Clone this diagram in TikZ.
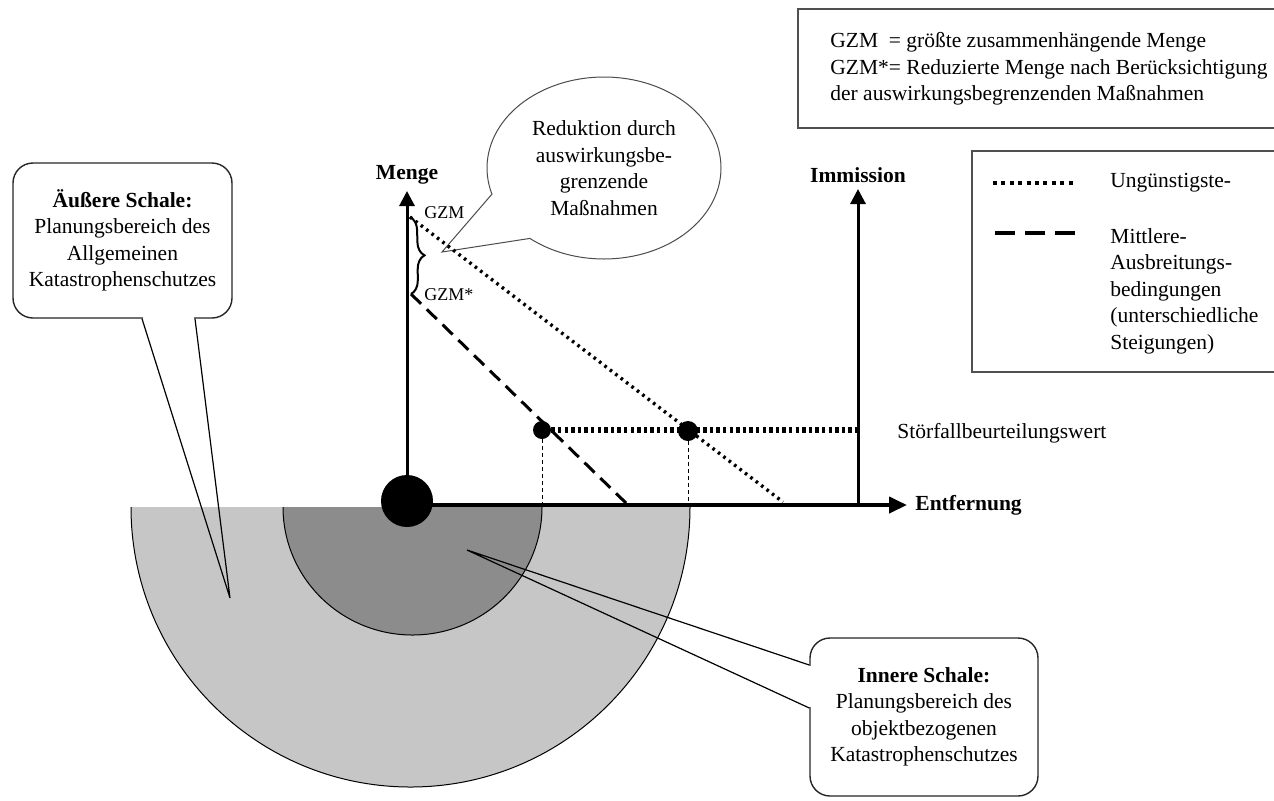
\documentclass[tikz,border=0pt]{standalone}
\usepackage{fontspec}
\setmainfont{Liberation Serif}
\usetikzlibrary{positioning,arrows.meta,shapes.callouts,decorations.pathreplacing,calc}

\definecolor{shellouter}{HTML}{C6C6C6}
\definecolor{shellinner}{HTML}{8C8C8C}
\definecolor{framegray}{HTML}{505050}

\begin{document}
\begin{tikzpicture}[
    x=0.5pt, y=-0.5pt,
    font=\fontsize{10.75}{13.25}\selectfont,
    shellbox/.style={rectangle, rounded corners=10pt, draw=black!85, line width=0.7pt,
                     fill=white, align=center, inner sep=0pt},
    bubble/.style={ellipse callout, draw=black!70, line width=0.5pt, fill=white,
                   align=center, inner sep=0pt, minimum width=117pt, minimum height=91pt,
                   callout pointer arc=34},
    axisline/.style={-{Triangle[length=7.5pt,width=7.5pt]}, line width=1.5pt},
    xaxisline/.style={-{Triangle[length=9pt,width=8pt]}, line width=2pt},
    worstline/.style={line width=1.7pt, dash pattern=on 1.3pt off 2.1pt},
    meanline/.style={line width=1.5pt, dash pattern=on 7pt off 4pt},
    limitline/.style={line width=2.9pt, dash pattern=on 1.7pt off 1.6pt},
    helpline/.style={line width=0.5pt, dash pattern=on 2pt off 1.5pt},
    dot/.style={circle, fill=black, inner sep=0pt},
    axislabel/.style={font=\fontsize{10.75}{13.25}\selectfont\bfseries, inner sep=0pt},
    smalllabel/.style={font=\fontsize{9}{11}\selectfont, inner sep=0pt, anchor=west},
    legendframe/.style={draw=framegray, line width=0.8pt}
  ]
    \useasboundingbox (0,0) rectangle (1274,800);

    % planning shells
    \fill[shellouter] (131,507) arc[start angle=180, end angle=0, x radius=279.5, y radius=280] -- cycle;
    \draw[line width=0.5pt] (131,507) arc[start angle=180, end angle=0, x radius=279.5, y radius=280];
    \fill[shellinner] (283,507) arc[start angle=180, end angle=0, x radius=129.5, y radius=128] -- cycle;
    \draw[line width=0.5pt] (283,507) arc[start angle=180, end angle=0, x radius=129.5, y radius=128];

    % callouts of the shells
    \node[shellbox, minimum width=109.5pt, minimum height=77.5pt] (outerbox) at (122.5,240.5)
      {\textbf{Äußere Schale:}\\Planungsbereich des\\Allgemeinen\\Katastrophenschutzes};
    \coordinate (outertip) at (230,598);
    \fill[white] ($(outerbox.south)+(20.5,-3)$) rectangle ($(outerbox.south)+(71.5,2)$);
    \draw[line width=0.6pt] ($(outerbox.south)+(19.5,0)$) -- (outertip) -- ($(outerbox.south)+(72.5,0)$);

    \node[shellbox, minimum width=114pt, minimum height=79pt] (innerbox) at (924,717)
      {\textbf{Innere Schale:}\\Planungsbereich des\\objektbezogenen\\Katastrophenschutzes};
    \coordinate (innertip) at (467,550);
    \fill[white] ($(innerbox.west)+(-2,-51)$) rectangle ($(innerbox.west)+(3,-10)$);
    \draw[line width=0.6pt] ($(innerbox.west)+(0,-52)$) -- (innertip) -- ($(innerbox.west)+(0,-9)$);

    % axes
    \coordinate (xtip) at (907,505);
    \coordinate (ytip) at (407,191);
    \coordinate (itip) at (858,189);
    \coordinate (ibase) at (858,505);
    \node[dot, minimum size=26pt] (source) at (407,501) {};
    \draw[xaxisline] (source.center |- xtip) -- (xtip);
    \draw[axisline] (source) -- (ytip);
    \draw[axisline] (ibase) -- (itip);
    \node[axislabel, above=3pt of ytip] (menge) {Menge};
    \node[axislabel, above=3pt of itip] (immission) {Immission};
    \node[axislabel, right=4pt of xtip] (entfernung) {Entfernung};

    % reduction bubble
    \coordinate (redtip) at (442,252);
    \node[bubble, callout absolute pointer={(redtip)}] (reduction) at (604,168)
      {Reduktion durch\\auswirkungsbe-\\grenzende\\Maßnahmen};

    % quantities and dispersion lines
    \coordinate (gzm) at (410,217);
    \coordinate (gzmstar) at (411,294);
    \coordinate (worstend) at (783,502);
    \coordinate (meanend) at (626,503);
    \coordinate (limitend) at (858,430);
    \draw[decorate, decoration={brace, amplitude=7pt}, line width=1pt] (gzm) -- (gzmstar);
    \node[smalllabel] (gzmlabel) at (424,213) {GZM};
    \node[smalllabel] (gzmstarlabel) at (424,295) {GZM*};
    \draw[meanline] (gzmstar) -- (meanend);
    \draw[worstline] (gzm) -- (worstend);

    \node[dot, minimum size=9pt] (dotmean) at (542,430) {};
    \node[dot, minimum size=10pt] (dotworst) at (688,431) {};
    \draw[limitline] (dotmean) -- (limitend);
    \draw[helpline] (dotmean) -- (dotmean |- xtip);
    \draw[helpline] (dotworst) -- (dotworst |- xtip);
    \node[anchor=west, inner sep=0pt] (limitlabel) at (897,433) {Störfallbeurteilungswert};

    % legends
    \draw[legendframe] (798,9) rectangle (1290,128);
    \node[anchor=west, align=left, inner sep=0pt] (deflist) at (830,69)
      {GZM\ \ = größte zusammenhängende Menge\\GZM*= Reduzierte Menge nach Berücksichtigung\\der auswirkungsbegrenzenden Maßnahmen};

    \draw[legendframe] (972,151) rectangle (1290,372);
    \coordinate (keyworsta) at (993,183);
    \coordinate (keyworstb) at (1073,183);
    \coordinate (keymeana) at (995,233);
    \coordinate (keymeanb) at (1075,233);
    \draw[line width=2.2pt, dash pattern=on 2pt off 2.2pt] (keyworsta) -- (keyworstb);
    \draw[line width=2.2pt, dash pattern=on 10pt off 5pt] (keymeana) -- (keymeanb);
    \node[anchor=west, inner sep=0pt] (keyworst) at (1110,183) {Ungünstigste-};
    \node[anchor=west, align=left, inner sep=0pt] (keymean) at (1110,291)
      {Mittlere-\\Ausbreitungs-\\bedingungen\\(unterschiedliche\\Steigungen)};
\end{tikzpicture}
\end{document}
